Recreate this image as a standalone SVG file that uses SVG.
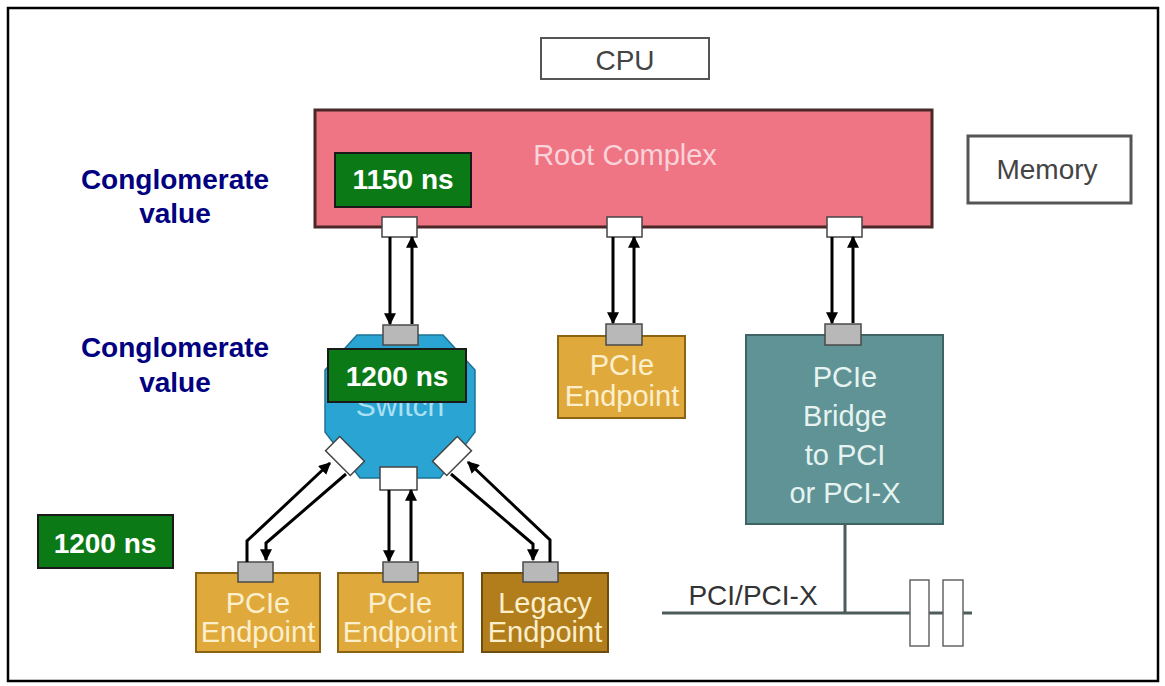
<svg xmlns="http://www.w3.org/2000/svg" width="1165" height="686" viewBox="0 0 1165 686">
<style>
text{font-family:"Liberation Sans",Arial,sans-serif;text-anchor:middle}
.lbl{font-size:28px;fill:#444}
.wp{fill:#fff;stroke:#444;stroke-width:1.5}
.gp{fill:#b8b8b8;stroke:#4a4a4a;stroke-width:1.5}
.ep{fill:#e0a93c;stroke:#8a6412;stroke-width:2}
.ept{font-size:29px;fill:#fcefcc}
.ns{fill:#0b7a16;stroke:#1a1a1a;stroke-width:2}
.nst{font-size:28px;font-weight:bold;fill:#fff}
.cv{font-size:28px;font-weight:bold;fill:#000080}
.ar{fill:none;stroke:#000;stroke-width:3;marker-end:url(#ah)}
.bus{fill:none;stroke:#4d5b5b;stroke-width:3}
</style>
<defs>
<marker id="ah" viewBox="0 0 10 10" refX="9" refY="5" markerWidth="12" markerHeight="12" markerUnits="userSpaceOnUse" orient="auto">
<path d="M0,0 L10,5 L0,10 z" fill="#000"/>
</marker>
</defs>
<rect x="8" y="8" width="1150" height="673" fill="#fff" stroke="#000" stroke-width="2.5"/>

<g id="cpu">
<rect x="541" y="38" width="168" height="41" fill="#fff" stroke="#555" stroke-width="2"/>
<text class="lbl" x="625" y="70">CPU</text>
</g>
<g id="memory">
<rect x="968" y="136" width="163" height="67" fill="#fff" stroke="#555" stroke-width="3"/>
<text class="lbl" x="1047" y="179">Memory</text>
</g>
<g id="root-complex">
<rect x="315" y="110" width="617" height="117" fill="#ef7584" stroke="#4a2828" stroke-width="3"/>
<text x="625" y="165" style="font-size:29px;fill:#f9d3da">Root Complex</text>
<rect class="wp" x="382" y="217" width="35" height="20"/>
<rect class="wp" x="607" y="217" width="35" height="20"/>
<rect class="wp" x="827" y="217" width="35" height="20"/>
</g>
<g id="switch">
<polygon points="357,335 443,335 475,370 475,432 440,478 360,478 325,432 325,370" fill="#2aa4d2" stroke="#1d7396" stroke-width="1.5"/>
<text x="400" y="416" style="font-size:30px;fill:#a9e0f2">Switch</text>
<rect class="gp" x="383" y="325" width="35" height="20"/>
<rect class="wp" x="-17.5" y="-10" width="35" height="20" transform="translate(345,456) rotate(45)"/>
<rect class="wp" x="-17.5" y="-10" width="35" height="20" transform="translate(452,456) rotate(-45)"/>
<rect class="wp" x="380" y="467" width="37" height="23"/>
</g>
<g id="endpoint-mid">
<rect class="ep" x="558" y="336" width="127" height="82"/>
<rect class="gp" x="606" y="324" width="36" height="21"/>
<text class="ept" x="622" y="375">PCIe</text>
<text class="ept" x="622" y="406">Endpoint</text>
</g>
<g id="bridge">
<rect x="746" y="335" width="197" height="189" fill="#5f9396" stroke="#3f6466" stroke-width="2"/>
<rect class="gp" x="825" y="324" width="36" height="21"/>
<text class="ept" x="845" y="387" style="fill:#e6f3f0">PCIe</text>
<text class="ept" x="845" y="426" style="fill:#e6f3f0">Bridge</text>
<text class="ept" x="845" y="465" style="fill:#e6f3f0">to PCI</text>
<text class="ept" x="845" y="503" style="fill:#e6f3f0">or PCI-X</text>
</g>
<g id="endpoint-1">
<rect class="ep" x="196" y="573" width="124" height="79"/>
<rect class="gp" x="238" y="562" width="35" height="20"/>
<text class="ept" x="258" y="613">PCIe</text>
<text class="ept" x="258" y="642">Endpoint</text>
</g>
<g id="endpoint-2">
<rect class="ep" x="338" y="573" width="125" height="79"/>
<rect class="gp" x="383" y="562" width="35" height="20"/>
<text class="ept" x="400" y="613">PCIe</text>
<text class="ept" x="400" y="642">Endpoint</text>
</g>
<g id="legacy-endpoint">
<rect class="ep" x="482" y="573" width="126" height="79" style="fill:#b27e1c;stroke:#6e4c0c"/>
<rect class="gp" x="523" y="562" width="35" height="20"/>
<text class="ept" x="545" y="613">Legacy</text>
<text class="ept" x="545" y="642">Endpoint</text>
</g>
<g id="pci-bus">
<path class="bus" d="M845,524 V613 M662,613 H910 M929,613 H943 M963,613 H972"/>
<rect x="910" y="580" width="19" height="66" fill="#fff" stroke="#666" stroke-width="1.5"/>
<rect x="943" y="580" width="20" height="66" fill="#fff" stroke="#666" stroke-width="1.5"/>
<text class="lbl" x="753" y="605" style="fill:#333">PCI/PCI-X</text>
</g>

<g id="connectors">
<path class="ar" d="M390,237 V324"/>
<path class="ar" d="M412,324 V237"/>
<path class="ar" d="M613,237 V323"/>
<path class="ar" d="M634,323 V237"/>
<path class="ar" d="M832,237 V323"/>
<path class="ar" d="M853,323 V237"/>
<path class="ar" d="M389,490 V561"/>
<path class="ar" d="M411,561 V490"/>
<path class="ar" d="M247,562 V541 L330,463"/>
<path class="ar" d="M346,474 L266,543 V560"/>
<path class="ar" d="M550,562 V540 L468,462"/>
<path class="ar" d="M451,474 L533,544 V560"/>
</g>

<g id="labels">
<text class="cv" x="175" y="189">Conglomerate</text>
<text class="cv" x="175" y="223">value</text>
<text class="cv" x="175" y="357">Conglomerate</text>
<text class="cv" x="175" y="392">value</text>
<rect class="ns" x="335" y="153" width="136" height="54"/>
<text class="nst" x="403" y="189">1150 ns</text>
<rect class="ns" x="328" y="349" width="138" height="53"/>
<text class="nst" x="397" y="386">1200 ns</text>
<rect class="ns" x="38" y="515" width="135" height="53"/>
<text class="nst" x="105" y="553">1200 ns</text>
</g>
</svg>
